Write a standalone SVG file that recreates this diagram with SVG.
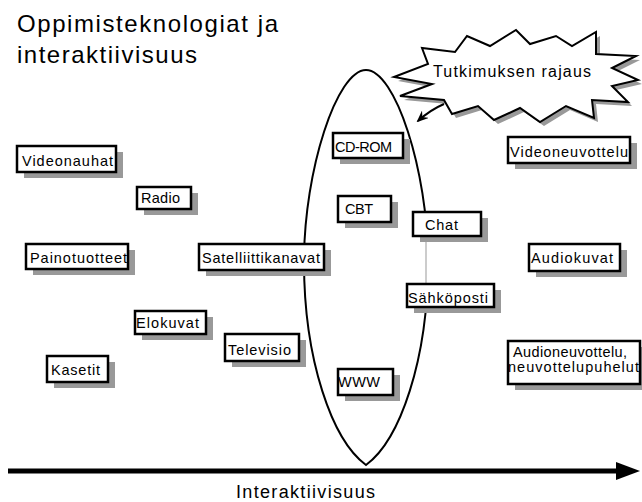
<svg xmlns="http://www.w3.org/2000/svg" width="642" height="502" viewBox="0 0 642 502">
<defs>
<style>
text{font-family:"Liberation Sans",Arial,sans-serif;fill:#000}
.t{font-size:14.5px}
.box{fill:#fff;stroke:#000;stroke-width:2.5}
.sh{fill:#999}
</style>
<marker id="ah" markerWidth="12" markerHeight="10" refX="10" refY="5" orient="auto" markerUnits="userSpaceOnUse">
<path d="M0,0 L12,5 L0,10 L4,5 Z" fill="#000"/>
</marker>
</defs>
<rect width="642" height="502" fill="#fff"/>
<g id="title">
<text x="17" y="32" font-size="24" textLength="261" lengthAdjust="spacing">Oppimisteknologiat ja</text>
<text x="17" y="63" font-size="24" textLength="180" lengthAdjust="spacing">interaktiivisuus</text>
</g>
<g id="scope">
<path d="M366,70 C395,70 428,170 428,262 C428,360 400,440 366,465 C332,440 304,360 304,262 C304,170 337,70 366,70 Z" fill="none" stroke="#000" stroke-width="2"/>
</g>
<g id="burst">
<polygon transform="translate(4,4)" class="sh" points="394,77 428,64 422,48 455,52 467,36 490,46 516,30 530,44 556,36 572,46 596,32 596,54 636,56 612,68 638,80 612,86 628,102 592,100 594,118 566,106 540,122 520,108 494,120 478,106 452,114 444,100 400,96 432,84"/>
<polygon fill="#fff" stroke="#000" stroke-width="2" stroke-linejoin="miter" points="394,77 428,64 422,48 455,52 467,36 490,46 516,30 530,44 556,36 572,46 596,32 596,54 636,56 612,68 638,80 612,86 628,102 592,100 594,118 566,106 540,122 520,108 494,120 478,106 452,114 444,100 400,96 432,84"/>
<text x="433" y="77" font-size="16" textLength="158" lengthAdjust="spacing">Tutkimuksen rajaus</text>
</g>
<g id="connectors">
<path d="M444,104 Q430,110 418,121" fill="none" stroke="#000" stroke-width="2" marker-end="url(#ah)"/>
<line x1="426" y1="238" x2="426" y2="283" stroke="#fff" stroke-width="6"/>
<line x1="426" y1="238" x2="426" y2="283" stroke="#999" stroke-width="1"/>
<line x1="8" y1="471" x2="622" y2="471" stroke="#000" stroke-width="5"/>
<polygon points="616,462 640,471 616,480" fill="#000"/>
</g>
<g id="axis-label">
<text x="236" y="498" font-size="18" textLength="139" lengthAdjust="spacing">Interaktiivisuus</text>
</g>
<g id="videonauhat">
<rect class="sh" x="24" y="152" width="99" height="26"/>
<rect class="box" x="17" y="146" width="99" height="26"/>
<text class="t" x="22" y="166" textLength="91" lengthAdjust="spacing">Videonauhat</text>
</g>
<g id="radio">
<rect class="sh" x="144" y="193" width="54" height="22"/>
<rect class="box" x="137" y="187" width="54" height="22"/>
<text class="t" x="141" y="203" textLength="39" lengthAdjust="spacing">Radio</text>
</g>
<g id="painotuotteet">
<rect class="sh" x="33" y="250" width="102" height="25"/>
<rect class="box" x="26" y="244" width="102" height="25"/>
<text class="t" x="30" y="263" textLength="97" lengthAdjust="spacing">Painotuotteet</text>
</g>
<g id="cdrom">
<rect class="sh" x="340" y="139" width="70" height="25"/>
<rect class="box" x="333" y="133" width="70" height="25"/>
<text class="t" x="335" y="152" textLength="57" lengthAdjust="spacing">CD-ROM</text>
</g>
<g id="cbt">
<rect class="sh" x="345" y="202" width="53" height="26"/>
<rect class="box" x="338" y="196" width="53" height="26"/>
<text class="t" x="345" y="214" textLength="28" lengthAdjust="spacing">CBT</text>
</g>
<g id="chat">
<rect class="sh" x="420" y="218" width="68" height="24"/>
<rect class="box" x="413" y="212" width="68" height="24"/>
<text class="t" x="425" y="230" textLength="33" lengthAdjust="spacing">Chat</text>
</g>
<g id="satelliittikanavat">
<rect class="sh" x="206" y="250" width="125" height="26"/>
<rect class="box" x="199" y="244" width="125" height="26"/>
<text class="t" x="202" y="263" textLength="118" lengthAdjust="spacing">Satelliittikanavat</text>
</g>
<g id="videoneuvottelu">
<rect class="sh" x="515" y="143" width="122" height="26"/>
<rect class="box" x="508" y="137" width="122" height="26"/>
<text class="t" x="510" y="157" textLength="118" lengthAdjust="spacing">Videoneuvottelu</text>
</g>
<g id="audiokuvat">
<rect class="sh" x="536" y="250" width="91" height="27"/>
<rect class="box" x="529" y="244" width="91" height="27"/>
<text class="t" x="531" y="263" textLength="82" lengthAdjust="spacing">Audiokuvat</text>
</g>
<g id="sahkoposti">
<rect class="sh" x="414" y="290" width="87" height="23"/>
<rect class="box" x="407" y="284" width="87" height="23"/>
<text class="t" x="408" y="303" textLength="80" lengthAdjust="spacing">Sähköposti</text>
</g>
<g id="elokuvat">
<rect class="sh" x="142" y="317" width="71" height="23"/>
<rect class="box" x="135" y="311" width="71" height="23"/>
<text class="t" x="136" y="328" textLength="63" lengthAdjust="spacing">Elokuvat</text>
</g>
<g id="televisio">
<rect class="sh" x="232" y="340" width="74" height="27"/>
<rect class="box" x="225" y="334" width="74" height="27"/>
<text class="t" x="228" y="355" textLength="63" lengthAdjust="spacing">Televisio</text>
</g>
<g id="kasetit">
<rect class="sh" x="54" y="362" width="61" height="26"/>
<rect class="box" x="47" y="356" width="61" height="26"/>
<text class="t" x="51" y="375" textLength="49" lengthAdjust="spacing">Kasetit</text>
</g>
<g id="www">
<rect class="sh" x="345" y="375" width="55" height="26"/>
<rect class="box" x="338" y="369" width="55" height="26"/>
<text class="t" x="338" y="387" textLength="42" lengthAdjust="spacing">WWW</text>
</g>
<g id="audioneuvottelu">
<rect class="sh" x="515" y="347" width="132" height="43"/>
<rect class="box" x="508" y="341" width="132" height="43"/>
<text class="t" x="513" y="357" textLength="114" lengthAdjust="spacing">Audioneuvottelu,</text>
<text class="t" x="508" y="372" textLength="131" lengthAdjust="spacing">neuvottelupuhelut</text>
</g>
</svg>
